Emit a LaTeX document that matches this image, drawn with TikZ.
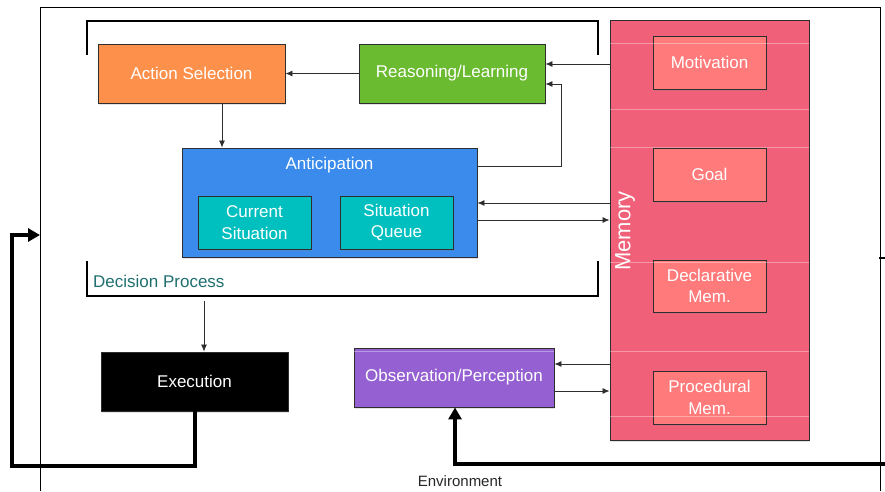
\documentclass[tikz,border=0pt]{standalone}
\usepackage{fontspec}
\setmainfont{Liberation Sans}
\usetikzlibrary{arrows.meta,shadows}

\definecolor{actorange}{HTML}{FD914B}
\definecolor{reasgreen}{HTML}{6ABB30}
\definecolor{antblue}{HTML}{3A8BEB}
\definecolor{sitteal}{HTML}{00BFBF}
\definecolor{mempink}{HTML}{F06079}
\definecolor{memsalmon}{HTML}{FF7B7B}
\definecolor{obspurple}{HTML}{9560D1}
\definecolor{dptext}{HTML}{1F6F6F}
\definecolor{edge}{HTML}{2E2E2E}

\tikzset{
  box/.style={draw=edge, line width=0.9pt, inner sep=0pt, text=white,
    align=center, font=\fontsize{17}{21.5}\selectfont,
    drop shadow={shadow xshift=0.6pt, shadow yshift=-1.6pt, opacity=0.22}},
  conn/.style={draw=edge, line width=0.8pt, -{Latex[length=7pt,width=6pt]}},
  heavy/.style={draw=black, line width=3.2pt, -{Triangle[length=12pt,width=13pt]}},
  bracket/.style={draw=black, line width=2pt},
  guide/.style={draw=white, opacity=0.35, line width=0.6pt},
}

\begin{document}
\begin{tikzpicture}[x=1pt, y=-1pt]
\useasboundingbox (0,0) rectangle (885,491);

% environment frame
\draw[line width=1pt] (40,491) -- (40,7) -- (880,7) -- (880,491);
\draw[line width=2.4pt] (879,258) -- (885,258);

% decision process bracket
\draw[bracket] (87,55) -- (87,21) -- (598,21) -- (598,55);
\draw[bracket] (87,261) -- (87,296) -- (598,296) -- (598,261);
\node[anchor=base west, text=dptext, font=\fontsize{17}{20}\selectfont, inner sep=0pt] (dplabel) at (93,287) {Decision Process};
\coordinate (dpbot) at (204,301);

% decision process boxes
\node[box, fill=actorange, minimum width=187pt, minimum height=59pt] (act) at (191.5,73.5) {Action Selection};
\node[box, fill=reasgreen, minimum width=186pt, minimum height=59pt] (reas) at (452,73.5) {Reasoning/Learning};
\node[box, fill=antblue, minimum width=295pt, minimum height=109pt] (antic) at (329.5,202.5) {};
\node[text=white, font=\fontsize{17}{20}\selectfont, inner sep=0pt] (antictitle) at (329.5,165) {Anticipation};
\node[box, fill=sitteal, minimum width=113pt, minimum height=53pt] (cur) at (254.5,222.5) {Current\\Situation};
\node[box, fill=sitteal, minimum width=113pt, minimum height=53pt] (queue) at (396.5,222.5) {Situation\\Queue};

% memory
\node[box, fill=mempink, minimum width=199pt, minimum height=420pt] (mem) at (709.5,230) {};
\node[text=white, rotate=90, font=\fontsize{22}{24}\selectfont, inner sep=0pt] (memlabel) at (625,231) {Memory};
\node[box, fill=memsalmon, minimum width=113pt, minimum height=53pt] (motiv) at (709.5,62.5) {Motivation};
\node[box, fill=memsalmon, minimum width=113pt, minimum height=53pt] (goal) at (709.5,174.5) {Goal};
\node[box, fill=memsalmon, minimum width=113pt, minimum height=52pt] (decl) at (709.5,286) {Declarative\\Mem.};
\node[box, fill=memsalmon, minimum width=113pt, minimum height=53pt] (proc) at (709.5,397.5) {Procedural\\Mem.};

% execution and perception
\node[box, fill=black, minimum width=187pt, minimum height=59pt] (exec) at (194.5,381.5) {Execution};
\node[box, fill=obspurple, minimum width=200pt, minimum height=59pt] (obs) at (454,377.5) {Observation/Perception};

% faint guide lines
\foreach \yy in {43,109,147,262,351,416}
  \draw[guide] (mem.west |- 0,\yy) -- (mem.east |- 0,\yy);
\draw[guide] (obs.west |- 0,351) -- (obs.east |- 0,351);

% connectors
\draw[conn] (reas.west) -- (act.east);
\draw[conn] (mem.west |- 0,64) -- (reas.east |- 0,64);
\draw[conn] (antic.east |- 0,166) -- (561,166) -- (561,84) -- (reas.east |- 0,84);
\draw[conn] (act.south -| 222,0) -- (antic.north -| 222,0);
\draw[conn] (mem.west |- 0,203) -- (antic.east |- 0,203);
\draw[conn] (antic.east |- 0,220) -- (mem.west |- 0,220);
\draw[conn] (dpbot) -- (dpbot |- exec.north);
\draw[conn] (mem.west |- 0,364) -- (obs.east |- 0,364);
\draw[conn] (obs.east |- 0,391) -- (mem.west |- 0,391);

% environment loops
\coordinate (envin) at (885,464);
\coordinate (envturn) at (455,464);
\coordinate (framein) at (40,235);
\draw[heavy] (envin) -- (envturn) -- (envturn |- obs.south);
\draw[heavy] (exec.south -| 195,0) -- (195,466) -- (12,466) -- (12,235) -- (framein);
\node[font=\fontsize{15}{17}\selectfont, text=black!85, inner sep=0pt] (envlabel) at (460,481) {Environment};
\end{tikzpicture}
\end{document}
